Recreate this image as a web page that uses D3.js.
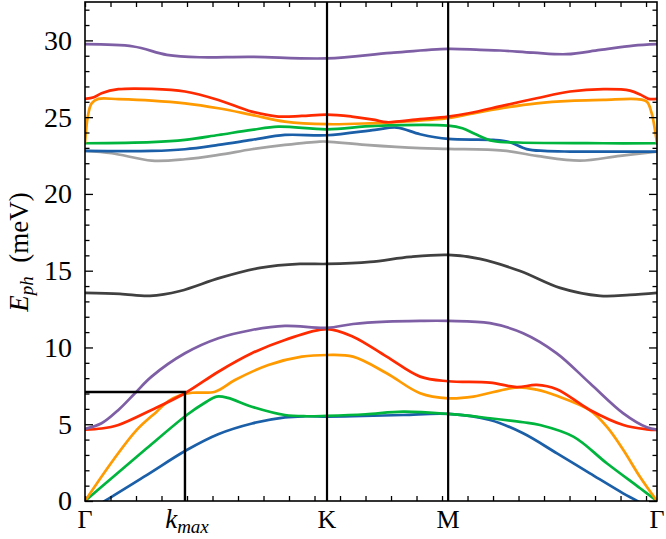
<!DOCTYPE html>
<html>
<head>
<meta charset="utf-8">
<script src="https://cdn.jsdelivr.net/npm/d3@7"></script>
<style>
  body { margin: 0; background: #fff; }
  svg text { font-family: "Liberation Serif", "DejaVu Serif", serif; }
</style>
</head>
<body>
<svg id="chart"></svg>
<script>
// high symmetry points along the path (1/Å)
const kK = 0.949, kM = 1.424, kG2 = 2.243;
const kmax = 0.392, eBox = 7.1;
const symLabels = [
  { k: 0, t: "Γ" }, { k: kK, t: "K" }, { k: kM, t: "M" }, { k: kG2, t: "Γ" }
];
const yMajor = [0, 5, 10, 15, 20, 25, 30];

// bands, [k, E(meV)]
const low1 = [[0,-0.85],[0.078,0],[0.242,1.69],[0.399,3.32],[0.522,4.35],[0.655,5.05],[0.784,5.45],[0.863,5.52],[0.949,5.5],[1.051,5.52],[1.247,5.6],[1.424,5.67],[1.588,5.28],[1.718,4.41],[1.851,3.1],[1.98,1.8],[2.11,0.5],[2.165,0],[2.243,-0.8]];
const low2 = [[0,0],[0.111,1.58],[0.242,3.43],[0.399,5.6],[0.47,6.4],[0.516,6.8],[0.56,6.72],[0.654,6.14],[0.784,5.6],[0.87,5.52],[0.949,5.55],[1.1,5.65],[1.248,5.82],[1.424,5.67],[1.588,5.39],[1.718,5.13],[1.784,4.95],[1.915,4.19],[2.046,2.46],[2.177,0.83],[2.243,0]];
const low3 = [[0,0],[0.111,2.67],[0.203,4.63],[0.281,5.82],[0.327,6.5],[0.373,6.88],[0.42,7.05],[0.51,7.12],[0.588,7.88],[0.719,8.86],[0.85,9.4],[0.949,9.51],[1.051,9.4],[1.183,8.32],[1.314,7.02],[1.424,6.69],[1.523,6.8],[1.693,7.4],[1.771,7.25],[1.85,6.85],[1.98,5.9],[2.046,4.84],[2.111,3.32],[2.176,1.58],[2.243,0]];
const low4 = [[0,4.65],[0.065,4.72],[0.131,4.95],[0.261,5.93],[0.392,7.02],[0.523,8.42],[0.654,9.62],[0.784,10.49],[0.949,11.2],[1.051,10.7],[1.183,9.4],[1.314,8.1],[1.424,7.8],[1.588,7.71],[1.693,7.42],[1.771,7.56],[1.85,7.28],[1.98,5.93],[2.111,4.95],[2.203,4.67],[2.243,4.63]];
const low5 = [[0,4.7],[0.065,5.06],[0.131,5.93],[0.196,7.02],[0.261,8.1],[0.392,9.62],[0.523,10.6],[0.654,11.14],[0.784,11.4],[0.949,11.28],[1.051,11.53],[1.183,11.68],[1.314,11.73],[1.424,11.73],[1.588,11.58],[1.718,10.93],[1.85,9.62],[1.98,7.67],[2.111,5.71],[2.203,4.8],[2.243,4.65]];
const mid6 = [[0,13.55],[0.137,13.49],[0.255,13.36],[0.373,13.68],[0.529,14.53],[0.686,15.18],[0.843,15.44],[0.949,15.44],[1.118,15.57],[1.275,15.9],[1.424,16.03],[1.549,15.77],[1.706,14.98],[1.863,13.88],[2.02,13.36],[2.137,13.42],[2.243,13.55]];
const up7 = [[0,22.8],[0.105,22.65],[0.262,22.17],[0.392,22.26],[0.523,22.54],[0.654,22.91],[0.784,23.19],[0.92,23.41],[0.949,23.41],[1.1,23.2],[1.314,22.98],[1.424,22.93],[1.64,22.82],[1.771,22.48],[1.941,22.17],[2.098,22.48],[2.243,22.76]];
const up8 = [[0,22.8],[0.262,22.8],[0.392,22.91],[0.523,23.19],[0.654,23.52],[0.784,23.84],[0.949,23.82],[1.137,24.17],[1.222,24.32],[1.314,23.89],[1.424,23.58],[1.6,23.52],[1.66,23.4],[1.732,22.92],[1.8,22.8],[1.902,22.76],[2.243,22.76]];
const up9 = [[0,23.3],[0.262,23.37],[0.392,23.52],[0.523,23.84],[0.654,24.17],[0.758,24.38],[0.949,24.21],[1.137,24.43],[1.424,24.45],[1.48,24.28],[1.53,23.9],[1.6,23.45],[1.7,23.35],[2.033,23.3],[2.243,23.3]];
const up10 = [[0,23.3],[0.011,25.04],[0.026,25.9],[0.052,26.19],[0.131,26.17],[0.262,26.08],[0.392,25.9],[0.523,25.58],[0.654,25.15],[0.784,24.71],[0.949,24.54],[1.118,24.6],[1.248,24.71],[1.424,24.93],[1.51,25.21],[1.64,25.6],[1.771,25.9],[1.902,26.06],[2.033,26.12],[2.164,26.17],[2.203,26.01],[2.222,25.26],[2.235,24.17],[2.243,23.3]];
const up11 = [[0,26.19],[0.035,26.3],[0.065,26.56],[0.131,26.82],[0.262,26.84],[0.392,26.67],[0.523,26.12],[0.654,25.36],[0.758,25.04],[0.85,25.08],[0.949,25.17],[1.046,25.04],[1.137,24.82],[1.183,24.67],[1.314,24.87],[1.424,25.04],[1.51,25.27],[1.64,25.75],[1.771,26.23],[1.902,26.67],[2.033,26.82],[2.137,26.73],[2.18,26.45],[2.21,26.19],[2.243,26.19]];
const up12 = [[0,29.75],[0.19,29.6],[0.321,29.06],[0.451,28.9],[0.647,28.93],[0.949,28.83],[1.2,29.19],[1.424,29.45],[1.549,29.38],[1.627,29.34],[1.758,29.2],[1.889,29.1],[2.02,29.38],[2.15,29.66],[2.243,29.75]];

const bands = [
  { pts: mid6, color: "#404040" },
  { pts: up7, color: "#a3a3a3" },
  { pts: up8, color: "#1a5fa8" },
  { pts: up9, color: "#00b53d" },
  { pts: up10, color: "#ff9a00" },
  { pts: up11, color: "#ff2a00" },
  { pts: up12, color: "#7e5fa6" },
  { pts: low1, color: "#1a5fa8" },
  { pts: low2, color: "#00b53d" },
  { pts: low3, color: "#ff9a00" },
  { pts: low4, color: "#ff2a00" },
  { pts: low5, color: "#7e5fa6" }
];

const width = 666, height = 539;
const mLeft = 85, mRight = 657, mTop = 2, mBottom = 501;
const serif = "'Liberation Serif', 'DejaVu Serif', serif";

const svg = d3.select("#chart")
    .attr("width", width)
    .attr("height", height)
    .attr("viewBox", `0 0 ${width} ${height}`)
    .style("display", "block");

const x = d3.scaleLinear().domain([0, kG2]).range([mLeft, mRight]);
const y = d3.scaleLinear().domain([0, 32.5]).range([mBottom, mTop]);

svg.append("clipPath").attr("id", "clip")
  .append("rect")
    .attr("x", mLeft).attr("y", mTop)
    .attr("width", mRight - mLeft).attr("height", mBottom - mTop);

const line = d3.line()
    .x(d => x(d[0]))
    .y(d => y(d[1]))
    .curve(d3.curveCatmullRom.alpha(0.5));

const plot = svg.append("g").attr("clip-path", "url(#clip)");

plot.selectAll("path.band")
  .data(bands)
  .join("path")
    .attr("class", "band")
    .attr("d", d => line(d.pts))
    .attr("fill", "none")
    .attr("stroke", d => d.color)
    .attr("stroke-width", 2.7)
    .attr("stroke-linejoin", "round");

// vertical lines at K and M
plot.selectAll("line.sym")
  .data([kK, kM])
  .join("line")
    .attr("x1", d => x(d)).attr("x2", d => x(d))
    .attr("y1", mTop).attr("y2", mBottom)
    .attr("stroke", "#000")
    .attr("stroke-width", 2.2);

// k_max box
plot.append("path")
    .attr("d", `M${x(0)},${y(eBox)}H${x(kmax)}V${y(0)}`)
    .attr("fill", "none")
    .attr("stroke", "#000")
    .attr("stroke-width", 2.4);

// ticks (inward, all four sides)
const yMinor = d3.range(0, 33, 1).filter(v => v % 5 !== 0);
const xMinor = d3.range(0, 2.25, 0.1);

svg.append("g")
    .attr("transform", `translate(${mLeft},0)`)
    .call(d3.axisLeft(y).tickValues(yMajor).tickSize(-8).tickPadding(13).tickFormat(d3.format("d")))
    .attr("font-family", serif)
    .attr("font-size", 28)
    .call(g => g.select(".domain").remove())
    .call(g => g.selectAll("text").attr("fill", "#000").style("font-family", serif));
svg.append("g")
    .attr("transform", `translate(${mLeft},0)`)
    .call(d3.axisLeft(y).tickValues(yMinor).tickSize(-4.5).tickFormat(""))
    .call(g => g.select(".domain").remove());
svg.append("g")
    .attr("transform", `translate(${mRight},0)`)
    .call(d3.axisRight(y).tickValues(yMajor).tickSize(-8).tickFormat(""))
    .call(g => g.select(".domain").remove());
svg.append("g")
    .attr("transform", `translate(${mRight},0)`)
    .call(d3.axisRight(y).tickValues(yMinor).tickSize(-4.5).tickFormat(""))
    .call(g => g.select(".domain").remove());
svg.append("g")
    .attr("transform", `translate(0,${mBottom})`)
    .call(d3.axisBottom(x).tickValues(xMinor).tickSize(-5).tickFormat(""))
    .call(g => g.select(".domain").remove());
svg.append("g")
    .attr("transform", `translate(0,${mTop})`)
    .call(d3.axisTop(x).tickValues(xMinor).tickSize(-5).tickFormat(""))
    .call(g => g.select(".domain").remove());
svg.selectAll(".tick line").attr("stroke", "#000").attr("stroke-width", 1.3);

// frame
svg.append("rect")
    .attr("x", mLeft).attr("y", mTop)
    .attr("width", mRight - mLeft).attr("height", mBottom - mTop)
    .attr("fill", "none")
    .attr("stroke", "#000")
    .attr("stroke-width", 1.6);

// x labels
svg.selectAll("text.sym")
  .data(symLabels)
  .join("text")
    .attr("class", "sym")
    .attr("x", d => x(d.k))
    .attr("y", 528)
    .attr("text-anchor", "middle")
    .attr("font-size", 26)
    .text(d => d.t);

const km = svg.append("text")
    .attr("x", x(kmax) + 2)
    .attr("y", 528)
    .attr("text-anchor", "middle")
    .attr("font-size", 27)
    .attr("font-style", "italic");
km.append("tspan").text("k");
km.append("tspan").attr("font-size", 19).attr("dy", 5).text("max");

// y label
const yl = svg.append("text")
    .attr("transform", "translate(28,252) rotate(-90)")
    .attr("text-anchor", "middle")
    .attr("font-size", 27);
yl.append("tspan").attr("font-style", "italic").text("E");
yl.append("tspan").attr("font-style", "italic").attr("font-size", 19).attr("dy", 5).text("ph");
yl.append("tspan").attr("dy", -5).text("\u2002(meV)");
</script>
</body>
</html>
